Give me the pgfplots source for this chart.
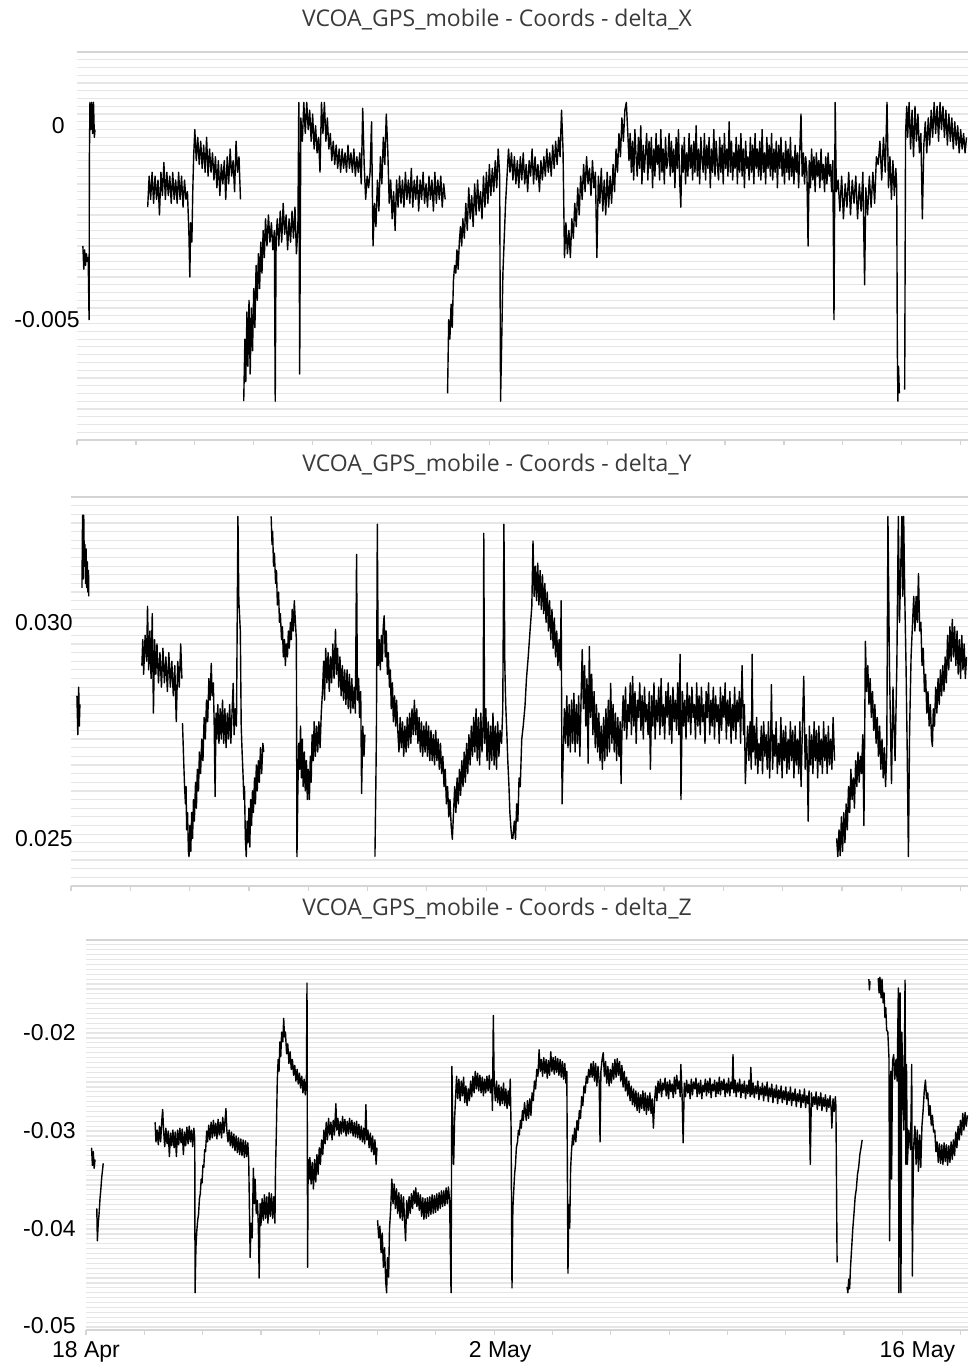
\documentclass[border=0pt]{standalone}
\usepackage{fontspec}
\setmainfont{Liberation Sans}
\newfontfamily\titlefont{Open Sans}
\usepackage{pgfplots}
\pgfplotsset{compat=1.18}
\definecolor{gridc}{HTML}{E6E6E6}
\definecolor{axc}{HTML}{D4D4D4}
\definecolor{titlec}{HTML}{3A3A3A}
\pgfplotsset{
 panel/.style={
  scale only axis, anchor=south west, xmin=0, xmax=30.25,
  axis x line*=bottom, axis y line*=left,
  x axis line style={axc, line width=0.6pt, -},
  y axis line style={draw=none},
  xtick={0,2,...,30}, xtick align=outside, major tick length=2.5pt,
  xtick style={axc, line width=0.6pt},
  ytick style={draw=none}, minor y tick style={draw=none},
  yminorgrids, minor grid style={gridc, line width=0.6pt},
  scaled y ticks=false, unbounded coords=jump,
  yticklabel style={anchor=east, inner sep=0pt, font=\fontsize{11.5}{13}\selectfont},
  xticklabel style={inner sep=0pt, yshift=-3pt, font=\fontsize{11.5}{13}\selectfont},
  after end axis/.code={\draw[axc, line width=1pt] (rel axis cs:0,1) -- (rel axis cs:1,1);},
 },
 trace/.style={black, line width=0.7pt, line join=round, mark=none},
}
\begin{document}
\begin{tikzpicture}
\path[use as bounding box] (0,0) rectangle (485.5pt,682.5pt);
% ---------------- delta_X
\begin{axis}[panel, at={(38.5pt,462.5pt)}, width=445.5pt, height=194pt,
  ymin=-0.0081, ymax=0.0019, ytick={-0.005,0}, yticklabels={-0.005,0\hspace*{7.5pt}},
  minor ytick={-0.0079,-0.0077,...,0.0019}, xticklabels={},
  yticklabel style={xshift=1.5pt}]
\addplot[trace] coordinates {
(0.20,-0.0031)(0.23,-0.0037)(0.26,-0.0032)(0.29,-0.0036)(0.32,-0.0033)(0.35,-0.0035)(0.38,-0.0034)(0.41,-0.005)(0.42,-0.0009)(0.44,0.0006)(0.47,-0.0001)(0.50,0.0006)(0.53,-0.0002)(0.56,0.0006)(0.59,-0.0003)(0.61,-0.0001)(0.62,nan)
(2.40,-0.0021)(2.45,-0.0013)(2.5,-0.0019)(2.55,-0.0012)(2.6,-0.002)(2.65,-0.0013)(2.7,-0.0019)(2.75,-0.0014)(2.8,-0.0023)(2.85,-0.0012)(2.9,-0.0018)(2.95,-0.00095)(3.0,-0.0019)(3.05,-0.0012)(3.1,-0.0018)(3.15,-0.0013)(3.2,-0.002)(3.25,-0.0012)(3.3,-0.0019)(3.35,-0.0014)(3.4,-0.002)(3.45,-0.0012)(3.5,-0.0019)(3.55,-0.0013)(3.6,-0.0021)(3.65,-0.0014)(3.7,-0.0019)(3.75,-0.0017)(3.8,-0.0028)(3.83,-0.0039)(3.86,-0.0025)(3.9,-0.003)(3.93,-0.0017)(3.96,-0.0008)
(4.0,-0.0001)(4.05,-0.0009)(4.1,-0.0003)(4.15,-0.001)(4.2,-0.0004)(4.25,-0.0011)(4.3,-0.0005)(4.35,-0.0012)(4.4,-0.0003)(4.45,-0.0013)(4.5,-0.0006)(4.55,-0.0012)(4.6,-0.0007)(4.65,-0.0014)(4.7,-0.0008)(4.75,-0.0016)(4.8,-0.0009)(4.85,-0.0018)(4.9,-0.001)(4.95,-0.0015)(5.0,-0.0009)(5.05,-0.0019)(5.1,-0.0008)(5.15,-0.0015)(5.2,-0.0006)(5.25,-0.0013)(5.3,-0.0009)(5.35,-0.0017)(5.4,-0.0004)(5.45,-0.0012)(5.5,-0.0008)(5.55,-0.0019)(5.6,nan)
(5.66,-0.0071)(5.7,-0.0055)(5.73,-0.0066)(5.77,-0.0048)(5.8,-0.0062)(5.84,-0.0045)(5.88,-0.0064)(5.92,-0.0047)(5.96,-0.0058)(6.0,-0.0042)(6.04,-0.0052)(6.08,-0.0036)(6.12,-0.0045)(6.16,-0.0033)(6.2,-0.0042)(6.24,-0.003)(6.28,-0.0038)(6.32,-0.0027)(6.36,-0.0034)(6.4,-0.0024)(6.45,-0.0031)(6.5,-0.0023)(6.55,-0.003)(6.6,-0.0025)(6.65,-0.0032)(6.7,-0.0027)(6.73,-0.0071)(6.76,-0.0029)(6.8,-0.0024)(6.85,-0.0031)(6.9,-0.0022)(6.95,-0.003)(7.0,-0.002)(7.05,-0.0028)(7.1,-0.0023)(7.15,-0.0032)(7.2,-0.0024)(7.25,-0.003)(7.3,-0.0022)(7.35,-0.0029)(7.4,-0.0021)(7.45,-0.0033)(7.5,-0.0026)
(7.53,0.0006)(7.56,-0.0064)(7.6,0.0002)(7.65,-0.0004)(7.7,0.0006)(7.75,-0.0002)(7.8,0.0006)(7.85,-0.0001)(7.9,0.0004)(7.95,-0.0004)(8.0,0.0003)(8.05,-0.0006)(8.1,0.0)(8.15,-0.0007)(8.2,-0.0003)(8.25,-0.0012)(8.3,0.0006)(8.35,-0.0002)(8.4,0.0006)(8.45,-0.0004)(8.5,0.0002)(8.55,-0.0006)(8.6,-0.0002)(8.65,-0.0009)(8.7,-0.0004)(8.75,-0.001)(8.8,-0.0005)(8.85,-0.0011)(8.9,-0.0006)(8.95,-0.0012)(9.0,-0.0006)(9.05,-0.0011)(9.1,-0.0007)(9.15,-0.0012)(9.2,-0.0005)(9.25,-0.0011)(9.3,-0.0007)(9.35,-0.0012)(9.4,-0.0006)(9.45,-0.0013)(9.5,-0.0008)(9.55,-0.0012)(9.6,-0.0007)(9.65,-0.0015)(9.7,0.00045)(9.75,-0.001)(9.8,-0.0019)(9.85,-0.0013)(9.9,-0.0016)(9.95,-0.0012)(10.0,0.0001)(10.05,-0.0031)(10.1,-0.002)(10.15,-0.0026)(10.2,-0.0014)(10.25,-0.0022)(10.3,-0.0008)(10.35,-0.0015)(10.4,-0.0003)(10.45,-0.001)(10.5,0.0003)(10.55,-0.0006)(10.6,-0.002)(10.65,-0.0014)(10.7,-0.0024)(10.75,-0.0017)(10.8,-0.0027)
(10.85,-0.0014)(10.9,-0.0021)(10.95,-0.0013)(11.0,-0.002)(11.05,-0.0014)(11.1,-0.0021)(11.15,-0.0012)(11.2,-0.0019)(11.25,-0.0014)(11.3,-0.002)(11.35,-0.0011)(11.4,-0.0021)(11.45,-0.0014)(11.5,-0.0019)(11.55,-0.0013)(11.6,-0.0022)(11.65,-0.0014)(11.7,-0.0019)(11.75,-0.0012)(11.8,-0.002)(11.85,-0.0015)(11.9,-0.0021)(11.95,-0.0013)(12.0,-0.0019)(12.05,-0.0014)(12.1,-0.0022)(12.15,-0.0012)(12.2,-0.002)(12.25,-0.0014)(12.3,-0.0019)(12.35,-0.0013)(12.4,-0.0021)(12.45,-0.0015)(12.5,-0.0019)(12.54,nan)
(12.58,-0.0069)(12.62,-0.005)(12.66,-0.0055)(12.7,-0.0046)(12.74,-0.0052)(12.78,-0.004)(12.82,-0.0036)(12.86,-0.0038)(12.9,-0.0032)(12.94,-0.0037)(12.98,-0.003)(13.02,-0.0026)(13.06,-0.0031)(13.1,-0.0024)(13.15,-0.0029)(13.2,-0.002)(13.25,-0.0027)(13.3,-0.0016)(13.35,-0.0024)(13.4,-0.0018)(13.45,-0.0026)(13.5,-0.0015)(13.55,-0.0023)(13.6,-0.0014)(13.65,-0.0022)(13.7,-0.0017)(13.75,-0.0024)(13.8,-0.0013)(13.85,-0.0021)(13.9,-0.0012)(13.95,-0.002)(14.0,-0.001)(14.05,-0.0018)(14.1,-0.0011)(14.15,-0.0017)(14.2,-0.0009)(14.25,-0.0016)(14.3,-0.0006)(14.35,-0.0013)(14.38,-0.0071)(14.42,-0.0055)(14.46,-0.0038)(14.5,-0.003)(14.55,-0.002)(14.6,-0.0013)(14.65,-0.0006)(14.7,-0.0012)(14.75,-0.0007)(14.8,-0.0014)(14.85,-0.0008)(14.9,-0.0015)(14.95,-0.0009)(15.0,-0.0016)(15.05,-0.0008)(15.1,-0.0014)(15.15,-0.0007)(15.2,-0.0015)(15.25,-0.001)(15.3,-0.0017)(15.35,-0.0009)(15.4,-0.0013)(15.45,-0.0006)(15.5,-0.0015)(15.55,-0.0008)(15.6,-0.0014)(15.65,-0.001)(15.7,-0.0017)(15.75,-0.0009)(15.8,-0.0014)(15.85,-0.0008)(15.9,-0.0013)(15.95,-0.0006)(16.0,-0.0012)(16.05,-0.0007)(16.1,-0.0013)(16.15,-0.0005)(16.2,-0.0011)(16.25,-0.0004)(16.3,-0.001)(16.35,-0.0003)(16.4,-0.0008)(16.45,0.0004)(16.5,-0.0006)
(16.55,-0.0034)(16.6,-0.0025)(16.65,-0.0033)(16.7,-0.0027)(16.75,-0.0034)(16.8,-0.0024)(16.85,-0.0029)(16.9,-0.002)(16.95,-0.0026)(17.0,-0.0016)(17.05,-0.0023)(17.1,-0.0013)(17.15,-0.0019)(17.2,-0.001)(17.25,-0.0017)(17.3,-0.0008)(17.35,-0.0015)(17.4,-0.0011)(17.45,-0.0018)(17.5,-0.0009)(17.55,-0.0016)(17.6,-0.0012)(17.65,-0.0034)(17.7,-0.0013)(17.75,-0.002)(17.8,-0.0011)(17.85,-0.0022)(17.9,-0.0014)(17.95,-0.0023)(18.0,-0.0012)(18.05,-0.0021)(18.1,-0.0013)(18.15,-0.002)(18.2,-0.001)(18.25,-0.0017)(18.3,-0.0006)(18.35,-0.0012)(18.4,-0.0002)(18.45,-0.0008)(18.5,0.0002)(18.55,-0.0004)(18.6,0.0004)(18.65,0.0006)(18.7,-0.0002)
(18.74,-0.0009)(18.78,-0.0002)(18.82,-0.0012)(18.86,-0.0004)(18.90,-0.0014)(18.94,-0.0001)(18.98,-0.0008)(19.02,-0.0013)(19.06,-0.0003)(19.10,-0.0011)(19.14,0.0)(19.18,-0.0015)(19.22,-0.0005)(19.26,-0.0012)(19.30,-0.0007)(19.34,-0.0002)(19.38,-0.0014)(19.42,-0.0004)(19.46,-0.0011)(19.50,-0.0003)(19.54,-0.0016)(19.58,-0.0006)(19.62,-0.0013)(19.66,-0.0002)(19.70,-0.001)(19.74,-0.0005)(19.78,-0.0014)(19.82,-0.0001)(19.86,-0.0012)(19.90,-0.0006)(19.94,-0.0015)(19.98,-0.0003)(20.02,-0.0011)(20.06,-0.0009)(20.10,-0.0002)(20.14,-0.0013)(20.18,-0.0004)(20.22,-0.0012)(20.26,-0.0006)(20.30,-0.0016)(20.34,-0.0003)(20.38,-0.0011)(20.42,-0.0001)(20.46,-0.0014)(20.50,-0.0021)(20.54,-0.0005)(20.58,-0.0012)(20.62,-0.0003)(20.66,-0.0015)(20.70,-0.0007)(20.74,-0.0013)(20.78,-0.0002)(20.82,-0.0011)(20.86,-0.0005)(20.90,-0.0014)(20.94,-0.0004)(20.98,-0.0012)(21.02,0.0)(21.06,-0.0013)(21.10,-0.0006)(21.14,-0.0015)(21.18,-0.0003)(21.22,-0.0009)(21.26,-0.0012)(21.30,-0.0002)(21.34,-0.0014)(21.38,-0.0005)(21.42,-0.0011)(21.46,-0.0003)(21.50,-0.0016)(21.54,-0.0006)(21.58,-0.0012)(21.62,-0.0001)(21.66,-0.0013)(21.70,-0.0004)(21.74,-0.001)(21.78,-0.0014)(21.82,-0.0003)(21.86,-0.0012)(21.90,-0.0005)(21.94,-0.0015)(21.98,-0.0002)(22.02,-0.0011)(22.06,-0.0006)(22.10,-0.0013)(22.14,0.0001)(22.18,-0.0012)(22.22,-0.0004)(22.26,-0.0014)(22.30,-0.0007)(22.34,-0.0011)(22.38,-0.0003)(22.42,-0.0015)(22.46,-0.0005)(22.50,-0.0012)(22.54,-0.0002)(22.58,-0.0013)(22.62,-0.0006)(22.66,-0.0016)(22.70,-0.0004)(22.74,-0.0011)(22.78,-0.0008)(22.82,-0.0014)(22.86,-0.0003)(22.90,-0.0012)(22.94,-0.0005)(22.98,-0.0015)(23.02,-0.0002)(23.06,-0.0011)(23.10,-0.0006)(23.14,-0.0013)(23.18,-0.0004)(23.22,-0.0014)(23.26,-0.0001)(23.30,-0.0012)(23.34,-0.0007)(23.38,-0.0015)(23.42,-0.0003)(23.46,-0.0011)(23.50,-0.0005)(23.54,-0.0013)(23.58,-0.0002)(23.62,-0.0014)(23.66,-0.0006)(23.70,-0.0012)(23.74,-0.0004)(23.78,-0.0016)(23.82,-0.0005)(23.86,-0.0011)(23.90,-0.0003)(23.94,-0.0013)(23.98,-0.0007)(24.02,-0.0015)(24.06,-0.0004)(24.10,-0.0012)(24.14,-0.0006)(24.18,-0.0014)(24.22,-0.0003)(24.26,-0.0013)(24.30,-0.0008)(24.34,-0.0015)(24.38,-0.0005)(24.42,-0.0012)(24.46,-0.0007)(24.50,-0.0016)(24.54,-0.0006)(24.58,0.0003)(24.62,-0.0013)(24.66,-0.0007)(24.70,-0.0015)(24.74,-0.0008)(24.78,-0.0012)(24.82,-0.0031)(24.86,-0.0009)(24.90,-0.0016)(24.94,-0.0006)(24.98,-0.0014)(25.02,-0.0008)(25.06,-0.0017)(25.10,-0.0007)(25.14,-0.0013)(25.18,-0.0009)(25.22,-0.0016)(25.26,-0.0006)(25.30,-0.0014)(25.34,-0.001)(25.38,-0.0017)(25.42,-0.0008)(25.46,-0.0015)(25.50,-0.0007)(25.54,-0.0013)(25.58,-0.001)(25.62,-0.0017)(25.66,-0.0009)(25.70,-0.005)(25.74,0.0006)(25.78,-0.0017)
(25.84,-0.0014)(25.9,-0.0022)(25.96,-0.0013)(26.02,-0.0024)(26.08,-0.0015)(26.14,-0.0021)(26.2,-0.0012)(26.26,-0.0023)(26.32,-0.0014)(26.38,-0.002)(26.44,-0.0013)(26.5,-0.0024)(26.56,-0.0015)(26.62,-0.0022)(26.68,-0.0012)(26.74,-0.0041)(26.78,-0.0016)(26.84,-0.0023)(26.9,-0.0013)(26.96,-0.0021)(27.02,-0.0012)(27.08,-0.002)(27.14,-0.0008)(27.2,-0.001)(27.26,-0.0004)(27.32,-0.0014)(27.38,-0.0003)(27.44,-0.0012)(27.5,0.0006)(27.55,-0.0016)(27.6,-0.0008)(27.65,-0.0019)(27.7,-0.0009)(27.75,-0.0018)(27.8,-0.0011)(27.83,-0.0016)(27.85,-0.0057)(27.87,-0.0071)(27.89,-0.0062)(27.92,-0.0069)(28.0,nan)
(28.1,-0.0068)(28.13,-0.0002)(28.17,0.0005)(28.2,-0.0003)(28.25,0.0006)(28.3,-0.0006)(28.35,0.0004)(28.4,-0.0008)(28.45,0.0005)(28.5,-0.0004)(28.55,0.0003)(28.6,-0.0007)(28.65,-0.0002)(28.7,-0.0024)(28.75,-0.0005)(28.8,0.0001)(28.85,-0.0007)(28.9,0.0002)(28.95,-0.0005)(29.0,0.0004)(29.05,-0.0003)(29.1,0.0006)(29.15,-0.0002)(29.2,0.0005)(29.25,-0.0004)(29.3,0.0006)(29.35,-0.0001)(29.4,0.0005)(29.45,-0.0003)(29.5,0.0004)(29.55,-0.0005)(29.6,0.0003)(29.65,-0.0004)(29.7,0.0002)(29.75,-0.0006)(29.8,0.0001)(29.85,-0.0005)(29.9,0.0)(29.95,-0.0007)(30.0,-0.0001)(30.05,-0.0006)(30.1,-0.0002)(30.15,-0.0007)(30.2,-0.0003)
};
\end{axis}
% ---------------- delta_Y
\begin{axis}[panel, at={(35.5pt,239.5pt)}, width=448.5pt, height=194.5pt,
  ymin=0.0239, ymax=0.0329, ytick={0.025,0.03}, yticklabels={0.025,0.030},
  minor ytick={0.0239,0.0241,...,0.0329}, xticklabels={},
  yticklabel style={xshift=1pt}]
\addplot[trace] coordinates {
(0.2,0.0283)(0.23,0.0274)(0.26,0.0285)(0.28,0.0276)(0.3,0.0281)(0.33,nan)
(0.37,0.0308)(0.39,0.03248)(0.41,0.031)(0.43,0.03248)(0.45,0.0313)(0.47,0.0318)(0.49,0.0309)(0.51,0.0317)(0.53,0.0308)(0.55,0.0314)(0.57,0.0307)(0.59,0.0312)(0.6,0.0306)(0.7,nan)
(2.39,0.029)(2.42,0.0296)(2.45,0.0288)(2.5,0.0297)(2.55,0.0291)(2.58,0.03037)(2.62,0.0289)(2.66,0.0298)(2.7,0.0287)(2.74,0.0302)(2.78,0.0279)(2.82,0.0296)(2.86,0.0288)(2.9,0.0295)(2.95,0.0286)(3.0,0.0293)(3.05,0.0285)(3.1,0.0294)(3.15,0.0286)(3.2,0.0292)(3.25,0.0284)(3.3,0.0293)(3.35,0.0285)(3.4,0.0291)(3.45,0.0283)(3.5,0.029)(3.55,0.0277)(3.6,0.0291)(3.65,0.0285)(3.7,0.0295)(3.74,0.0287)(3.75,nan)
(3.76,0.02767)(3.8,0.0268)(3.83,0.0262)(3.86,0.0258)(3.88,0.0262)(3.9,0.0252)(3.93,0.0256)(3.96,0.0247)(3.98,0.02458)(4.01,0.0253)(4.04,0.0247)(4.07,0.0256)(4.1,0.025)(4.13,0.0259)(4.16,0.0254)(4.2,0.0263)(4.23,0.0257)(4.26,0.0266)(4.3,0.0261)(4.33,0.027)(4.37,0.0265)(4.41,0.0273)(4.45,0.0268)(4.49,0.0278)(4.53,0.0273)(4.57,0.0282)(4.61,0.0277)(4.65,0.0287)(4.69,0.0282)(4.73,0.02905)(4.76,0.0283)(4.8,0.0286)(4.83,0.0276)(4.86,0.02597)(4.89,0.0279)(4.92,0.0273)(4.95,0.0281)(4.99,0.0272)(5.03,0.028)(5.07,0.0273)(5.11,0.0282)(5.15,0.0272)(5.19,0.028)(5.23,0.0271)(5.27,0.0279)(5.31,0.0273)(5.35,0.0281)(5.39,0.0272)(5.43,0.0279)(5.47,0.02859)(5.5,0.0274)(5.54,0.028)(5.58,0.0276)(5.63,0.03245)(5.66,0.0305)(5.71,0.0298)(5.74,0.0276)(5.77,0.027)(5.8,0.0265)(5.83,0.0259)(5.85,0.0262)(5.88,0.025)(5.91,0.02458)(5.94,0.0254)(5.97,0.0249)(6.0,0.0257)(6.03,0.0248)(6.06,0.0259)(6.09,0.0253)(6.12,0.0261)(6.15,0.0256)(6.19,0.0264)(6.22,0.0258)(6.25,0.0267)(6.28,0.0261)(6.32,0.0268)(6.35,0.0263)(6.39,0.0271)(6.43,0.0265)(6.47,0.0272)(6.5,0.027)(6.6,nan)
(6.75,0.03245)(6.78,0.0318)(6.8,0.0321)(6.83,0.0313)(6.86,0.0316)(6.9,0.0309)(6.93,0.0312)(6.96,0.0304)(7.0,0.0307)(7.03,0.03)(7.06,0.0302)(7.1,0.0296)(7.13,0.0299)(7.16,0.0292)(7.2,0.0296)(7.23,0.029)(7.26,0.0295)(7.3,0.0292)(7.33,0.0298)(7.36,0.0294)(7.4,0.03)(7.43,0.0296)(7.46,0.0303)(7.5,0.0298)(7.53,0.0305)(7.56,0.0301)(7.6,0.0296)(7.62,0.02458)
(7.65,0.0261)(7.68,0.0272)(7.71,0.0266)(7.74,0.0276)(7.77,0.0264)(7.8,0.0273)(7.83,0.0262)(7.87,0.027)(7.9,0.0261)(7.94,0.0268)(7.97,0.0259)(8.0,0.0266)(8.04,0.0259)(8.07,0.0269)(8.1,0.0263)(8.13,0.0274)(8.17,0.0268)(8.2,0.0277)(8.24,0.0269)(8.28,0.0276)(8.32,0.027)(8.36,0.0277)(8.4,0.0271)(8.44,0.0279)(8.48,0.0284)(8.52,0.0291)(8.55,0.0282)(8.59,0.0294)(8.63,0.0286)(8.67,0.0293)(8.71,0.0284)(8.75,0.0292)(8.79,0.0286)(8.83,0.0295)(8.87,0.0287)(8.92,0.02984)(8.95,0.0288)(8.99,0.0294)(9.03,0.0285)(9.07,0.0292)(9.11,0.0283)(9.15,0.029)(9.19,0.0282)(9.23,0.0289)(9.27,0.0281)(9.31,0.0289)(9.35,0.028)(9.39,0.0288)(9.43,0.0279)(9.47,0.0287)(9.51,0.028)(9.55,0.0285)(9.59,0.0279)(9.63,0.03157)(9.66,0.0282)(9.7,0.0287)(9.73,0.0278)(9.77,0.0284)(9.8,0.02604)(9.84,0.0276)(9.88,0.0269)(9.91,0.0274)(9.95,nan)
(10.25,0.02458)(10.28,0.0262)(10.3,0.0275)(10.33,0.03227)(10.36,0.029)(10.4,0.0296)(10.43,0.0289)(10.47,0.0297)(10.5,0.0291)(10.53,0.0299)(10.56,0.03015)(10.6,0.0292)(10.63,0.0298)(10.67,0.0288)(10.7,0.0293)(10.74,0.0285)(10.77,0.0289)(10.8,0.028)(10.84,0.0286)(10.87,0.0277)(10.91,0.0283)(10.95,0.0276)(10.98,0.0282)
(11.02,0.0275)(11.06,0.027)(11.1,0.0278)(11.14,0.0271)(11.18,0.0277)(11.22,0.0269)(11.26,0.0276)(11.3,0.027)(11.34,0.0278)(11.38,0.0271)(11.42,0.0279)(11.46,0.0272)(11.5,0.028)(11.54,0.0274)(11.58,0.0282)(11.62,0.0274)(11.66,0.028)(11.7,0.0272)(11.74,0.0278)(11.78,0.027)(11.82,0.0277)(11.86,0.0269)(11.9,0.0276)(11.94,0.027)(11.98,0.0277)(12.02,0.0269)(12.06,0.0276)(12.1,0.0268)(12.14,0.0275)(12.18,0.0268)(12.22,0.0274)(12.26,0.0267)(12.3,0.0275)(12.34,0.0268)(12.38,0.0273)(12.42,0.0266)(12.46,0.0272)
(12.5,0.0265)(12.54,0.0269)(12.58,0.0262)(12.62,0.0266)(12.66,0.0258)(12.7,0.0262)(12.74,0.0255)(12.78,0.0259)(12.82,0.0253)(12.86,0.02498)(12.9,0.0256)(12.94,0.0262)(12.98,0.0256)(13.02,0.0264)(13.06,0.0258)(13.1,0.0266)(13.14,0.026)(13.18,0.0268)(13.22,0.0262)(13.26,0.027)(13.3,0.0263)(13.34,0.0272)(13.38,0.0265)(13.42,0.0274)(13.46,0.0267)(13.5,0.0276)(13.54,0.0269)(13.58,0.0278)
(13.62,0.027)(13.66,0.028)(13.7,0.0268)(13.74,0.0278)(13.78,0.0267)(13.82,0.0279)(13.86,0.027)(13.9,0.0277)(13.92,0.03206)(13.95,0.0272)(13.99,0.028)(14.03,0.0268)(14.07,0.0277)(14.11,0.0266)(14.15,0.0276)(14.19,0.0268)(14.23,0.0279)(14.27,0.0267)(14.31,0.0276)(14.35,0.0266)(14.39,0.0277)(14.43,0.0269)(14.47,0.0275)(14.52,0.0272)(14.56,0.028)(14.6,0.03227)(14.63,0.029)(14.66,0.0281)(14.7,0.0274)(14.73,0.0268)(14.77,0.0262)(14.8,0.0256)(14.84,0.0252)(14.87,0.025)
(14.9,0.025)(14.95,0.0254)(14.99,0.02498)(15.03,0.0258)(15.07,0.0254)(15.11,0.0264)(15.15,0.0262)(15.2,0.02729)(15.25,0.0276)(15.31,0.02806)(15.36,0.0287)(15.42,0.02921)(15.48,0.0298)(15.54,0.03037)(15.58,0.03188)(15.62,0.0306)(15.66,0.0313)(15.7,0.0305)(15.74,0.03137)(15.78,0.0304)(15.82,0.0312)(15.86,0.0303)(15.9,0.0311)(15.94,0.0302)(15.98,0.0309)(16.02,0.03)(16.06,0.0307)(16.1,0.0298)(16.14,0.0305)(16.18,0.0296)(16.22,0.0303)(16.26,0.0294)(16.3,0.0301)(16.34,0.0292)(16.38,0.0298)(16.42,0.029)(16.46,0.0296)(16.5,0.0289)(16.53,0.0305)(16.56,0.0258)
(16.6,0.027)(16.64,0.028)(16.68,0.0272)(16.72,0.0283)(16.76,0.0271)(16.8,0.0281)(16.84,0.027)(16.88,0.0282)(16.92,0.0272)(16.96,0.02836)(17.0,0.027)(17.04,0.0281)(17.08,0.0272)(17.12,0.0283)(17.16,0.0269)(17.2,0.0282)
(17.24,0.02937)(17.28,0.028)(17.32,0.029)(17.36,0.0276)(17.4,0.0287)(17.44,0.02674)(17.48,0.02944)(17.52,0.0278)(17.56,0.0288)(17.6,0.0274)(17.64,0.0284)(17.68,0.0271)(17.72,0.0281)(17.76,0.027)
(17.8,0.0279)(17.84,0.0268)(17.88,0.0276)(17.92,0.0266)(17.96,0.0278)(18.0,0.0268)(18.04,0.028)(18.08,0.0269)(18.12,0.0282)(18.16,0.027)(18.2,0.02859)(18.24,0.0272)(18.28,0.0281)(18.32,0.027)(18.36,0.0279)(18.4,0.0268)(18.44,0.0278)(18.48,0.0269)(18.52,0.0277)(18.55,0.02627)(18.58,0.0275)
(18.62,0.0283)(18.66,0.0275)(18.70,0.0285)(18.74,0.0273)(18.78,0.0281)(18.82,0.0277)(18.86,0.0286)(18.90,0.0274)(18.94,0.02875)(18.98,0.0276)(19.02,0.0284)(19.06,0.0272)(19.10,0.0282)(19.14,0.0278)(19.18,0.0286)(19.22,0.0275)(19.26,0.0283)(19.30,0.0273)(19.34,0.0285)(19.38,0.0277)(19.42,0.0281)(19.46,0.0274)(19.50,0.0284)(19.54,0.0266)(19.58,0.0283)(19.62,0.0276)(19.66,0.0286)(19.70,0.0273)(19.74,0.0282)(19.78,0.0277)(19.82,0.0285)(19.86,0.0274)(19.90,0.0287)(19.94,0.0276)(19.98,0.0281)(20.02,0.0273)(20.06,0.0284)(20.10,0.0278)(20.14,0.0286)(20.18,0.0274)(20.22,0.0283)(20.26,0.0272)(20.30,0.0285)(20.34,0.0277)(20.38,0.0282)(20.42,0.0275)(20.46,0.0286)(20.50,0.0274)(20.54,0.02926)(20.57,0.0259)(20.62,0.0284)(20.66,0.0276)(20.70,0.0282)(20.74,0.0273)(20.78,0.0286)(20.82,0.0277)(20.86,0.0283)(20.90,0.0274)(20.94,0.0285)(20.98,0.0278)(21.02,0.0281)(21.06,0.0273)(21.10,0.0286)(21.14,0.0276)(21.18,0.0283)(21.22,0.0274)(21.26,0.0285)(21.30,0.0277)(21.34,0.0281)(21.38,0.0272)(21.42,0.0284)(21.46,0.0278)(21.50,0.0286)(21.54,0.0274)(21.58,0.0282)(21.62,0.0276)(21.66,0.0285)(21.70,0.0273)(21.74,0.0283)(21.78,0.0277)(21.82,0.0281)(21.86,0.0272)(21.90,0.0285)(21.94,0.0275)(21.98,0.0283)(22.02,0.0278)(22.06,0.0286)(22.10,0.0273)(22.14,0.0282)(22.18,0.0276)(22.22,0.0284)(22.26,0.0272)(22.30,0.0281)(22.34,0.0275)(22.38,0.0285)(22.42,0.0273)(22.46,0.0282)(22.50,0.0277)(22.54,0.0284)(22.58,0.0272)(22.63,0.029)(22.68,0.0274)(22.71,0.0281)(22.74,0.02627)
(22.78,0.027)(22.82,0.0276)(22.86,0.0268)(22.90,0.0277)(22.94,0.0266)(22.97,0.02926)(23.00,0.027)(23.04,0.0276)(23.08,0.0267)(23.12,0.0278)(23.16,0.0265)(23.20,0.0272)(23.24,0.0268)(23.28,0.0276)(23.32,0.0265)(23.36,0.0277)(23.40,0.0269)(23.44,0.0274)(23.48,0.0266)(23.52,0.0277)(23.56,0.0264)(23.60,0.0275)(23.62,0.02856)(23.66,0.0266)(23.70,0.0274)(23.74,0.0269)(23.78,0.0277)(23.82,0.0265)(23.86,0.0272)(23.90,0.0267)(23.94,0.0278)(23.98,0.0264)(24.02,0.0275)(24.06,0.0268)(24.10,0.0276)(24.14,0.0265)(24.18,0.0273)(24.22,0.0266)(24.26,0.0277)(24.30,0.0268)(24.34,0.0275)(24.38,0.0264)(24.42,0.0276)(24.46,0.0267)(24.50,0.0273)(24.54,0.0265)(24.58,0.0277)(24.62,0.0262)(24.66,0.0274)(24.71,0.02875)(24.76,0.0266)(24.80,0.0274)(24.83,0.0268)(24.86,0.0254)(24.90,0.0276)(24.94,0.0267)(24.98,0.0274)(25.02,0.0265)(25.06,0.0277)(25.10,0.0268)(25.14,0.0275)(25.18,0.0264)(25.22,0.0276)(25.26,0.0267)(25.30,0.0273)(25.34,0.0265)(25.38,0.0277)(25.42,0.0268)(25.46,0.0274)(25.50,0.0265)(25.54,0.0276)(25.58,0.0267)(25.62,0.0273)(25.66,0.0266)(25.70,0.0278)(25.75,0.0268)(25.78,nan)
(25.82,0.025)(25.86,0.02458)(25.9,0.0252)(25.94,0.0246)(25.98,0.0255)(26.02,0.0247)(26.06,0.0256)(26.1,0.0249)(26.14,0.0258)(26.18,0.0252)(26.22,0.0262)(26.26,0.0256)(26.3,0.0266)(26.34,0.0259)(26.38,0.0264)(26.42,0.0257)(26.46,0.0268)(26.5,0.0262)(26.54,0.027)(26.58,0.0263)(26.62,0.0269)(26.66,0.0265)(26.7,0.0274)(26.74,0.0253)(26.79,0.02956)(26.83,0.0284)(26.87,0.029)(26.91,0.0281)(26.95,0.0287)(26.99,0.0278)(27.03,0.0284)(27.07,0.0275)(27.11,0.0281)(27.15,0.0272)(27.19,0.0278)(27.23,0.0269)(27.27,0.0276)(27.31,0.0266)(27.35,0.0273)(27.39,0.0264)(27.43,0.0271)(27.47,0.0262)(27.51,0.027)
(27.55,0.03245)(27.6,0.029)(27.67,0.02627)(27.72,0.0285)(27.79,0.0268)(27.85,0.029)(27.9,0.03245)(27.94,0.03)(27.97,0.0309)(28.02,0.03245)(28.05,0.0306)(28.08,0.03245)(28.12,0.0305)(28.16,0.029)(28.2,0.027)(28.24,0.02458)(28.28,0.0275)(28.33,0.0292)(28.38,0.03)(28.42,0.0306)
(28.46,0.0298)(28.5,0.0306)(28.54,0.03)(28.58,0.03113)(28.62,0.0298)(28.66,0.03)(28.7,0.029)(28.74,0.0294)(28.78,0.0284)(28.82,0.0288)(28.86,0.0279)(28.9,0.0284)(28.94,0.0276)(28.98,0.0281)(29.02,0.0273)(29.05,0.02713)(29.08,0.028)(29.12,0.0276)(29.16,0.0285)(29.2,0.0279)(29.24,0.0287)(29.28,0.0281)(29.32,0.0289)(29.36,0.0283)(29.4,0.029)(29.44,0.0284)(29.48,0.0292)(29.52,0.0286)(29.56,0.0297)(29.6,0.0289)(29.64,0.0299)(29.68,0.0291)(29.72,0.03007)(29.76,0.0292)(29.8,0.0299)(29.84,0.029)(29.88,0.0298)(29.92,0.0288)(29.96,0.0296)(30.0,0.0287)(30.04,0.0297)(30.08,0.0289)(30.12,0.0295)(30.16,0.0287)(30.2,0.0292)
};
\end{axis}
% ---------------- delta_Z
\begin{axis}[panel, at={(43pt,17.5pt)}, width=441pt, height=195pt,
  ymin=-0.0504, ymax=-0.0106, ytick={-0.05,-0.04,-0.03,-0.02}, yticklabels={-0.05,-0.04,-0.03,-0.02},
  minor ytick={-0.0501,-0.0496,...,-0.0106},
  xticklabels={18 Apr,{},{},{},{},{},{},\hspace*{6pt}2 May,{},{},{},{},{},{},\hspace*{15pt}16 May,{}},
  yticklabel style={xshift=-5pt}]
\addplot[trace] coordinates {
(0.19,-0.0318)(0.22,-0.0336)(0.25,-0.0322)(0.28,-0.0339)(0.31,-0.033)(0.33,nan)
(0.37,-0.038)(0.39,-0.0413)(0.42,-0.0395)(0.45,-0.0385)(0.48,-0.037)(0.51,-0.036)(0.54,-0.0348)(0.57,-0.034)(0.59,-0.0334)(0.7,nan)
(2.37,-0.0292)(2.4,-0.0312)(2.44,-0.03)(2.48,-0.0315)(2.52,-0.0296)(2.56,-0.0312)(2.6,-0.029)(2.63,-0.0279)(2.66,-0.03)(2.7,-0.0317)(2.74,-0.0298)(2.78,-0.0314)(2.82,-0.0301)(2.86,-0.0327)(2.9,-0.0303)(2.94,-0.0316)(2.98,-0.03)(3.02,-0.0318)(3.06,-0.0302)(3.1,-0.0327)(3.14,-0.03)(3.18,-0.0315)(3.22,-0.0298)(3.26,-0.0313)(3.3,-0.0299)(3.34,-0.0325)(3.38,-0.0302)(3.42,-0.0316)(3.46,-0.0297)(3.5,-0.0314)(3.54,-0.0296)(3.58,-0.0312)(3.62,-0.03)(3.66,-0.0317)(3.7,-0.0298)(3.73,-0.031)
(3.74,-0.0466)(3.77,-0.042)(3.8,-0.0403)(3.83,-0.0392)(3.86,-0.0386)(3.89,-0.037)(3.92,-0.0365)(3.95,-0.035)(3.98,-0.0354)(4.01,-0.0336)(4.04,-0.0338)(4.07,-0.032)(4.1,-0.0322)(4.14,-0.0301)
(4.17,-0.0312)(4.21,-0.0295)(4.25,-0.031)(4.29,-0.0292)(4.33,-0.0308)(4.37,-0.029)(4.41,-0.0306)(4.45,-0.0293)(4.49,-0.0309)(4.53,-0.0289)(4.57,-0.0305)(4.61,-0.0292)(4.65,-0.0308)(4.69,-0.0287)(4.73,-0.0303)(4.77,-0.029)(4.8,-0.0278)(4.83,-0.03)
(4.87,-0.0312)(4.91,-0.03)(4.95,-0.0316)(4.99,-0.0302)(5.03,-0.0318)(5.07,-0.0304)(5.11,-0.0321)(5.15,-0.0306)(5.19,-0.0323)(5.23,-0.0308)(5.27,-0.0325)(5.31,-0.0309)(5.35,-0.0326)(5.39,-0.031)(5.43,-0.0328)(5.47,-0.0311)(5.51,-0.0327)(5.55,-0.0313)
(5.58,-0.033)(5.6,-0.0369)(5.63,-0.043)(5.66,-0.0395)(5.7,-0.041)(5.74,-0.0339)(5.77,-0.0375)(5.8,-0.035)(5.84,-0.0385)
(5.88,-0.0372)(5.91,-0.0398)(5.94,-0.0451)(5.97,-0.0375)(6.0,-0.0397)(6.04,-0.037)(6.08,-0.0392)(6.12,-0.0366)(6.16,-0.039)(6.2,-0.0368)(6.24,-0.0395)(6.28,-0.0364)(6.32,-0.0388)(6.36,-0.0365)(6.4,-0.039)(6.44,-0.0368)(6.48,-0.0395)
(6.5,-0.034)(6.53,-0.03)(6.56,-0.025)(6.59,-0.0228)(6.62,-0.024)(6.65,-0.021)(6.68,-0.0225)(6.71,-0.02)(6.75,-0.021)(6.78,-0.0186)(6.81,-0.0205)
(6.84,-0.02)(6.88,-0.0222)(6.92,-0.0212)(6.96,-0.0232)(7.0,-0.022)(7.04,-0.0238)(7.08,-0.0228)(7.12,-0.0244)(7.16,-0.0234)(7.2,-0.025)(7.24,-0.0238)(7.28,-0.0253)(7.32,-0.0242)(7.36,-0.0257)(7.4,-0.0245)(7.44,-0.0262)(7.48,-0.0248)(7.52,-0.0264)(7.56,-0.0247)
(7.58,-0.015)(7.6,-0.044)(7.62,-0.033)
(7.65,-0.035)(7.68,-0.0328)(7.72,-0.0355)(7.76,-0.0333)(7.8,-0.036)(7.84,-0.033)(7.88,-0.0353)(7.92,-0.0325)(7.96,-0.0345)(8.0,-0.0318)
(8.04,-0.0335)(8.08,-0.031)(8.12,-0.0325)(8.16,-0.03)(8.2,-0.0314)(8.24,-0.0292)(8.28,-0.031)(8.32,-0.0288)(8.36,-0.0305)(8.4,-0.0292)(8.44,-0.031)
(8.48,-0.029)(8.52,-0.0305)(8.57,-0.0273)(8.6,-0.03)(8.64,-0.0288)(8.68,-0.0306)(8.72,-0.0291)(8.76,-0.0304)(8.8,-0.0286)(8.84,-0.0302)(8.88,-0.0289)(8.92,-0.0306)(8.96,-0.0291)(9.0,-0.0304)(9.04,-0.0288)(9.08,-0.0303)(9.12,-0.029)(9.16,-0.0306)(9.2,-0.0292)(9.24,-0.0307)(9.28,-0.0291)(9.32,-0.0308)(9.36,-0.0294)(9.4,-0.031)(9.44,-0.0296)(9.48,-0.0312)(9.52,-0.0298)(9.56,-0.0314)(9.6,-0.0274)(9.63,-0.031)(9.67,-0.03)(9.71,-0.0318)(9.75,-0.0303)(9.79,-0.0322)(9.83,-0.0306)(9.87,-0.0325)(9.91,-0.031)(9.95,-0.0335)(9.98,-0.0318)(9.99,nan)
(10.0,-0.0392)(10.04,-0.041)(10.08,-0.0398)(10.12,-0.0425)(10.16,-0.0405)(10.2,-0.044)(10.24,-0.042)(10.28,-0.0455)(10.31,-0.0466)(10.34,-0.043)(10.38,-0.045)(10.41,-0.04)(10.45,-0.038)
(10.49,-0.035)(10.53,-0.0375)(10.57,-0.0355)(10.61,-0.038)(10.65,-0.036)(10.69,-0.0385)(10.73,-0.0364)(10.77,-0.039)(10.81,-0.0366)(10.85,-0.0392)(10.89,-0.0368)(10.93,-0.0395)(10.96,-0.0413)(11.0,-0.0372)(11.04,-0.039)(11.08,-0.0368)(11.12,-0.0385)(11.16,-0.0365)(11.2,-0.038)(11.24,-0.0362)(11.28,-0.0375)(11.31,-0.0359)(11.35,-0.0378)(11.39,-0.0364)(11.43,-0.0382)(11.47,-0.0366)(11.51,-0.0388)(11.55,-0.0369)(11.59,-0.0391)(11.63,-0.037)(11.67,-0.039)(11.71,-0.0369)(11.75,-0.0388)(11.79,-0.0368)(11.83,-0.0386)(11.87,-0.0366)(11.91,-0.0385)(11.95,-0.0367)(11.99,-0.0384)(12.03,-0.0365)(12.07,-0.0382)(12.11,-0.0364)(12.15,-0.038)(12.19,-0.0362)(12.23,-0.0378)(12.27,-0.0362)(12.31,-0.0377)(12.35,-0.0359)(12.39,-0.0375)(12.43,-0.0358)(12.47,-0.0372)
(12.52,-0.0466)(12.55,-0.0235)(12.58,-0.03)(12.61,-0.0335)(12.64,-0.029)(12.67,-0.027)(12.71,-0.0245)(12.75,-0.0268)(12.79,-0.0248)(12.83,-0.027)(12.87,-0.025)(12.91,-0.0265)(12.95,-0.0246)(12.99,-0.0272)(13.03,-0.0255)(13.07,-0.0275)(13.11,-0.0258)(13.15,-0.027)(13.19,-0.025)(13.23,-0.0266)(13.27,-0.0245)(13.31,-0.0262)(13.35,-0.024)(13.39,-0.0258)(13.43,-0.0242)(13.47,-0.026)(13.51,-0.0244)(13.55,-0.0262)(13.59,-0.0246)(13.63,-0.0265)(13.67,-0.0248)(13.71,-0.0262)(13.75,-0.0245)(13.79,-0.026)(13.83,-0.0244)(13.87,-0.0262)(13.91,-0.0248)(13.94,-0.028)(13.97,-0.0183)(14.0,-0.0252)(14.04,-0.027)(14.08,-0.025)(14.12,-0.0272)(14.16,-0.0254)(14.2,-0.0275)(14.24,-0.0256)(14.28,-0.0273)(14.32,-0.0252)(14.36,-0.0275)(14.4,-0.0258)(14.44,-0.0278)(14.48,-0.026)(14.52,-0.0275)(14.55,-0.0248)
(14.58,-0.03)(14.61,-0.0461)(14.64,-0.038)(14.67,-0.0362)(14.7,-0.0345)(14.73,-0.0335)(14.76,-0.0318)(14.8,-0.0312)(14.83,-0.03)(14.86,-0.0305)(14.9,-0.029)(14.93,-0.0298)(14.97,-0.028)(15.0,-0.029)(15.04,-0.0272)(15.08,-0.0284)
(15.1,-0.029)(15.14,-0.027)(15.18,-0.0288)(15.22,-0.0268)(15.26,-0.0285)(15.3,-0.0262)(15.34,-0.027)(15.38,-0.025)(15.42,-0.0258)(15.46,-0.0238)(15.5,-0.0245)(15.54,-0.0218)(15.58,-0.024)(15.62,-0.0228)(15.66,-0.0245)(15.7,-0.0226)(15.74,-0.0242)(15.78,-0.0228)(15.82,-0.0247)(15.86,-0.0229)(15.9,-0.0244)(15.94,-0.022)(15.98,-0.024)(16.02,-0.0226)(16.06,-0.0243)(16.1,-0.0225)(16.14,-0.0241)(16.18,-0.0227)(16.22,-0.0244)(16.26,-0.0228)(16.3,-0.0246)(16.34,-0.023)(16.38,-0.0248)(16.42,-0.0232)(16.46,-0.0252)(16.49,-0.024)
(16.53,-0.0446)(16.56,-0.0376)(16.59,-0.04)(16.62,-0.034)(16.65,-0.0322)(16.69,-0.0305)(16.72,-0.0315)(16.76,-0.0298)(16.8,-0.0312)(16.84,-0.029)(16.88,-0.03)(16.92,-0.028)(16.96,-0.0288)(17.0,-0.0266)(17.04,-0.0275)(17.08,-0.0255)(17.12,-0.0262)(17.16,-0.0245)(17.2,-0.0252)(17.24,-0.0238)(17.28,-0.0246)(17.32,-0.0232)
(17.36,-0.0246)(17.4,-0.023)(17.44,-0.025)(17.48,-0.0232)(17.52,-0.0255)(17.56,-0.0235)(17.6,-0.025)(17.63,-0.0312)(17.66,-0.024)(17.7,-0.0228)(17.74,-0.0221)(17.78,-0.0245)(17.82,-0.023)(17.86,-0.0252)(17.9,-0.0235)(17.94,-0.0255)(17.98,-0.0238)(18.02,-0.0252)(18.06,-0.0232)(18.1,-0.0248)(18.14,-0.0228)(18.18,-0.0246)(18.22,-0.0227)(18.26,-0.0244)(18.3,-0.023)(18.34,-0.025)(18.38,-0.0234)(18.42,-0.0256)(18.46,-0.024)(18.5,-0.026)
(18.54,-0.0246)(18.58,-0.0265)(18.62,-0.025)(18.66,-0.027)(18.7,-0.0255)(18.74,-0.0274)(18.78,-0.0258)(18.82,-0.0276)(18.86,-0.026)(18.9,-0.028)(18.94,-0.0262)(18.98,-0.0282)(19.02,-0.0264)(19.06,-0.0278)(19.1,-0.026)(19.14,-0.028)(19.18,-0.0262)(19.22,-0.0284)(19.26,-0.0265)(19.3,-0.028)(19.34,-0.0262)(19.38,-0.0283)(19.42,-0.0268)(19.46,-0.0298)(19.5,-0.027)(19.54,-0.0255)(19.58,-0.027)
(19.62,-0.025)(19.66,-0.0262)(19.70,-0.0248)(19.74,-0.0266)(19.78,-0.0252)(19.82,-0.0259)(19.86,-0.0247)(19.90,-0.0265)(19.94,-0.0251)(19.98,-0.0268)(20.02,-0.0249)(20.06,-0.0261)(20.10,-0.0253)(20.14,-0.0267)(20.18,-0.0246)(20.22,-0.0263)(20.26,-0.0244)(20.30,-0.0258)(20.34,-0.025)(20.38,-0.0266)(20.40,-0.0233)(20.44,-0.026)(20.48,-0.0313)(20.52,-0.0252)(20.56,-0.0266)(20.60,-0.0249)(20.64,-0.0262)(20.68,-0.0253)(20.72,-0.0268)(20.76,-0.0248)(20.80,-0.0264)(20.84,-0.0251)(20.88,-0.0258)(20.92,-0.0247)(20.96,-0.0266)(21.00,-0.0252)(21.04,-0.0263)(21.08,-0.0249)(21.12,-0.0268)(21.16,-0.0254)(21.20,-0.0261)(21.24,-0.0248)(21.28,-0.0265)(21.32,-0.025)(21.36,-0.0262)(21.40,-0.0247)(21.44,-0.0267)(21.48,-0.0253)(21.52,-0.026)(21.56,-0.0249)(21.60,-0.0266)(21.64,-0.0251)(21.68,-0.0263)(21.72,-0.0246)(21.76,-0.0264)(21.80,-0.025)(21.84,-0.0259)(21.88,-0.0248)(21.92,-0.0266)(21.96,-0.0252)(22.00,-0.0262)(22.04,-0.0247)(22.08,-0.0265)(22.12,-0.0251)(22.16,-0.0258)(22.19,-0.0223)(22.22,-0.0262)(22.26,-0.0249)(22.30,-0.0266)(22.34,-0.0252)(22.38,-0.0261)(22.42,-0.0248)(22.46,-0.0267)(22.50,-0.0253)(22.54,-0.0262)(22.58,-0.025)(22.62,-0.0268)(22.66,-0.0254)(22.70,-0.0263)(22.74,-0.0249)(22.78,-0.0266)(22.80,-0.0236)(22.84,-0.0264)(22.88,-0.0252)(22.92,-0.0267)(22.96,-0.0255)(23.00,-0.0263)(23.04,-0.025)(23.08,-0.0269)(23.12,-0.0256)(23.16,-0.0264)(23.20,-0.0252)(23.24,-0.027)(23.28,-0.0255)(23.32,-0.0265)(23.36,-0.0251)(23.40,-0.0271)(23.44,-0.0257)(23.48,-0.0266)(23.52,-0.0253)(23.56,-0.0272)(23.60,-0.0258)(23.64,-0.0267)(23.68,-0.0254)(23.72,-0.0273)(23.76,-0.0259)(23.80,-0.0268)(23.84,-0.0255)(23.88,-0.0272)(23.92,-0.026)(23.96,-0.0269)(24.00,-0.0256)(24.04,-0.0274)(24.08,-0.0261)(24.12,-0.027)(24.16,-0.0256)(24.20,-0.0275)(24.24,-0.0262)(24.28,-0.027)(24.32,-0.0258)(24.36,-0.0276)(24.40,-0.0263)(24.44,-0.0271)(24.48,-0.0259)(24.52,-0.0277)(24.56,-0.0264)(24.60,-0.0272)(24.64,-0.0258)(24.68,-0.0277)(24.72,-0.0265)(24.76,-0.0273)(24.80,-0.026)(24.84,-0.0335)(24.88,-0.0262)(24.92,-0.0276)(24.96,-0.0266)(25.00,-0.0274)(25.04,-0.0261)(25.08,-0.0279)(25.12,-0.0266)(25.16,-0.0275)(25.20,-0.0262)(25.24,-0.028)(25.28,-0.0267)(25.32,-0.0276)(25.36,-0.0264)(25.40,-0.0281)(25.44,-0.0268)(25.48,-0.0277)(25.52,-0.0265)(25.56,-0.028)(25.58,-0.0298)(25.62,-0.0268)(25.66,-0.0281)(25.70,-0.0266)(25.72,-0.0276)(25.76,-0.0435)(25.8,nan)
(26.1,-0.046)(26.13,-0.0466)(26.16,-0.0452)(26.19,-0.0462)(26.22,-0.044)(26.26,-0.042)(26.3,-0.04)(26.34,-0.0385)(26.38,-0.0368)(26.42,-0.036)(26.46,-0.0345)(26.5,-0.0338)(26.54,-0.0325)(26.58,-0.0318)(26.62,-0.031)(26.7,nan)
(26.85,-0.0146)(26.87,-0.0157)(26.89,-0.0148)(27.0,nan)
(27.17,-0.0145)(27.2,-0.016)(27.23,-0.0144)(27.27,-0.0165)(27.3,-0.0146)(27.34,-0.017)(27.37,-0.016)(27.4,-0.0185)(27.43,-0.0175)(27.46,-0.0198)(27.5,-0.02)(27.54,-0.0227)(27.56,-0.0413)(27.6,-0.024)(27.63,-0.035)(27.66,-0.023)(27.7,-0.0223)(27.74,-0.0248)(27.78,-0.0228)(27.82,-0.025)(27.86,-0.0155)(27.88,-0.0466)(27.92,-0.016)(27.95,-0.0466)(27.98,-0.02)(28.05,-0.03)(28.09,-0.0147)(28.12,-0.0335)(28.14,-0.0233)(28.17,-0.0335)(28.22,-0.03)(28.28,-0.032)(28.32,-0.0233)(28.34,-0.0449)(28.38,-0.032)
(28.43,-0.0296)(28.47,-0.0335)(28.51,-0.03)(28.55,-0.0342)(28.59,-0.0305)(28.63,-0.0338)(28.67,-0.0296)(28.71,-0.028)(28.75,-0.026)(28.79,-0.0249)(28.83,-0.0268)(28.87,-0.0262)(28.91,-0.0285)(28.95,-0.0275)(28.99,-0.0295)(29.03,-0.0285)(29.07,-0.0302)(29.11,-0.03)(29.15,-0.0322)(29.19,-0.0312)(29.23,-0.0333)(29.27,-0.0314)(29.31,-0.0334)(29.35,-0.0315)(29.39,-0.0335)(29.43,-0.0313)(29.47,-0.0332)(29.51,-0.0315)(29.55,-0.0336)(29.59,-0.0316)(29.63,-0.0333)(29.67,-0.0312)(29.71,-0.033)(29.75,-0.031)(29.79,-0.0326)(29.83,-0.0302)(29.87,-0.0318)(29.91,-0.0296)(29.95,-0.031)(29.99,-0.029)(30.03,-0.0305)(30.07,-0.0283)(30.11,-0.03)(30.15,-0.0282)(30.19,-0.0296)(30.23,-0.0285)
};
\end{axis}
\begin{scope}[every node/.style={font=\titlefont\fontsize{11.5}{13}\selectfont, text=titlec}]
\node at (248.5pt,672.5pt) {VCOA\_GPS\_mobile - Coords - delta\_X};
\node at (248.5pt,450pt) {VCOA\_GPS\_mobile - Coords - delta\_Y};
\node at (248.5pt,228pt) {VCOA\_GPS\_mobile - Coords - delta\_Z};
\end{scope}
\end{tikzpicture}
\end{document}
